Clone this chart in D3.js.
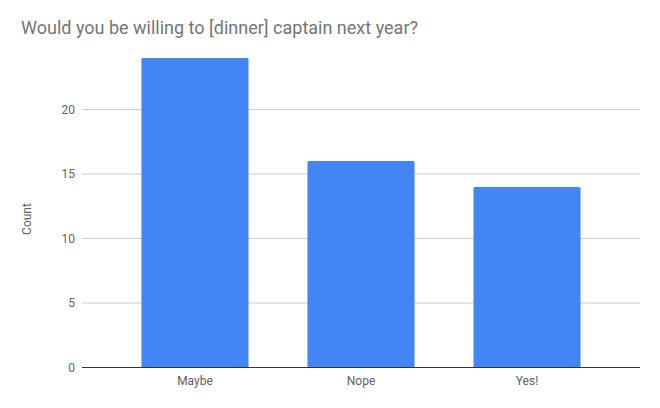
<!doctype html>
<head>
  <script src="https://d3js.org/d3.v7.min.js"></script>
  <style>
    body { margin: 0; background: #fff; }
    text { font-family: Roboto, "Noto Sans", sans-serif; }
  </style>
</head>
<body>
<div id="viz"></div>
<script>

var categories = ['Maybe', 'Nope', 'Yes!']
var counts = [24, 16, 14]
var yTicks = [0, 5, 10, 15, 20]

var width = 660, height = 408
var plotLeft = 82, plotRight = 640, plotTop = 45, plotBottom = 367.5

var svg = d3.select('#viz').append('svg')
  .attr('width', width)
  .attr('height', height)

var x = d3.scaleBand()
  .domain(categories)
  .range([plotLeft, plotRight])
  .paddingInner(0.355)
  .paddingOuter(0.358)

var y = d3.scaleLinear()
  .domain([0, 25])
  .range([plotBottom, plotTop])

// title
svg.append('text')
  .attr('x', 21)
  .attr('y', 34)
  .style('font-size', '18px')
  .style('fill', '#757575')
  .text('Would you be willing to [dinner] captain next year?')

// gridlines
svg.selectAll('.grid')
  .data(yTicks.filter(function(d) { return d > 0 }))
  .enter()
  .append('line')
  .attr('x1', plotLeft)
  .attr('x2', plotRight)
  .attr('y1', function(d) { return y(d) })
  .attr('y2', function(d) { return y(d) })
  .style('stroke', '#cccccc')
  .style('stroke-width', 1)

// y axis tick labels
svg.selectAll('.ytick')
  .data(yTicks)
  .enter()
  .append('text')
  .attr('x', 75)
  .attr('y', function(d) { return y(d) })
  .attr('dy', '0.35em')
  .attr('text-anchor', 'end')
  .style('font-size', '12px')
  .style('fill', '#616161')
  .text(function(d) { return d })

// y axis title
svg.append('text')
  .attr('transform', 'translate(31,219) rotate(-90)')
  .attr('text-anchor', 'middle')
  .style('font-size', '12px')
  .style('fill', '#616161')
  .text('Count')

// bars
svg.selectAll('.bar')
  .data(counts)
  .enter()
  .append('rect')
  .attr('x', function(d, i) { return x(categories[i]) })
  .attr('width', x.bandwidth())
  .attr('y', function(d) { return y(d) })
  .attr('height', function(d) { return y(0) - y(d) })
  .attr('rx', 1.5)
  .style('fill', '#4285f4')

// baseline
svg.append('line')
  .attr('x1', plotLeft)
  .attr('x2', plotRight)
  .attr('y1', y(0))
  .attr('y2', y(0))
  .style('stroke', '#333333')
  .style('stroke-width', 1)

// category labels
svg.selectAll('.xtick')
  .data(categories)
  .enter()
  .append('text')
  .attr('x', function(d) { return x(d) + x.bandwidth() / 2 })
  .attr('y', 385)
  .attr('text-anchor', 'middle')
  .style('font-size', '12px')
  .style('fill', '#616161')
  .text(function(d) { return d })

</script>
